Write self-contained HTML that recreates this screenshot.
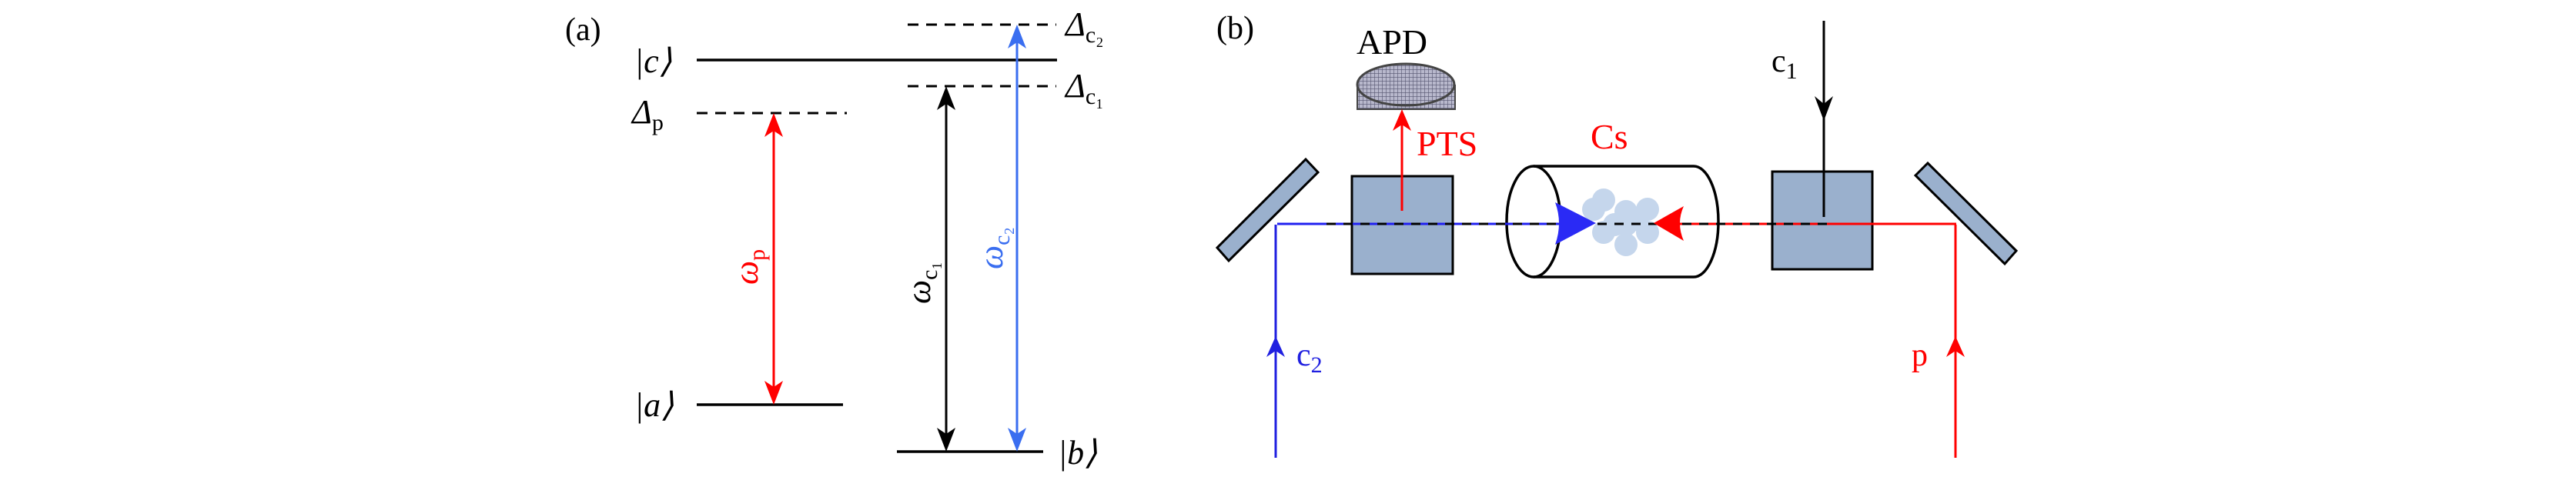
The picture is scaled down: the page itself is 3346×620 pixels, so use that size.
<!DOCTYPE html>
<html><head><meta charset="utf-8"><style>
html,body{margin:0;padding:0;background:#fff}
svg{display:block}
text{font-family:"Liberation Serif",serif}
</style></head><body>
<svg width="3346" height="620" viewBox="0 0 3346 620" xmlns="http://www.w3.org/2000/svg">
<defs>
<pattern id="grid" width="5" height="5" patternUnits="userSpaceOnUse">
<rect width="5" height="5" fill="#b8b8cc"/>
<path d="M0 0H5M0 0V5" stroke="#555570" stroke-width="1.2"/>
</pattern>
</defs>
<!-- Panel (a) -->
<text x="734" y="52" font-size="42">(a)</text>
<g stroke="#000" stroke-width="3.5">
<line x1="905" y1="78" x2="1373" y2="78"/>
<line x1="905" y1="526" x2="1095" y2="526"/>
<line x1="1165" y1="587" x2="1355" y2="587"/>
</g>
<g stroke="#000" stroke-width="3" stroke-dasharray="14,10">
<line x1="1179" y1="32" x2="1372" y2="32"/>
<line x1="1179" y1="112" x2="1372" y2="112"/>
<line x1="905" y1="147" x2="1100" y2="147"/>
</g>
<line x1="1005" y1="160" x2="1005" y2="512" stroke="#f00" stroke-width="3"/>
<path d="M1005 147 L993 178 L1005 170 L1017 178Z M1005 526 L993 495 L1005 503 L1017 495Z" fill="#f00"/>
<line x1="1229" y1="125" x2="1229" y2="573" stroke="#000" stroke-width="3"/>
<path d="M1229 112 L1217 143 L1229 135 L1241 143Z M1229 587 L1217 556 L1229 564 L1241 556Z" fill="#000"/>
<line x1="1321" y1="45" x2="1321" y2="573" stroke="#3a6ef0" stroke-width="3"/>
<path d="M1321 32 L1309 63 L1321 55 L1333 63Z M1321 587 L1309 556 L1321 564 L1333 556Z" fill="#3a6ef0"/>
<g font-size="44" font-style="italic">
<text x="824" y="94">|c⟩</text>
<text x="824" y="541">|a⟩</text>
<text x="1374" y="603">|b⟩</text>
<text x="821" y="160">Δ<tspan font-style="normal" font-size="30" dy="9">p</tspan></text>
<text x="1384" y="46">Δ<tspan font-style="normal" font-size="30" dy="9">c₂</tspan></text>
<text x="1384" y="126">Δ<tspan font-style="normal" font-size="30" dy="9">c₁</tspan></text>
<text transform="translate(984,370) rotate(-90)" fill="#f00">ω<tspan font-style="normal" font-size="30" dy="9">p</tspan></text>
<text transform="translate(1208,395) rotate(-90)">ω<tspan font-style="normal" font-size="30" dy="9">c₁</tspan></text>
<text transform="translate(1302,350) rotate(-90)" fill="#3a6ef0">ω<tspan font-style="normal" font-size="30" dy="9">c₂</tspan></text>
</g>
<!-- Panel (b) -->
<text x="1580" y="50" font-size="42">(b)</text>
<text x="1762" y="70" font-size="46">APD</text>
<rect x="1763" y="111" width="127" height="31" fill="url(#grid)" stroke="#444" stroke-width="2"/>
<ellipse cx="1826" cy="110" rx="63" ry="27" fill="url(#grid)" stroke="#444" stroke-width="3"/>
<polygon points="1581,322 1596,339 1712,224 1696,207" fill="#9ab0cd" stroke="#000" stroke-width="3"/>
<polygon points="2488,228 2504,212 2619,326 2604,343" fill="#9ab0cd" stroke="#000" stroke-width="3"/>
<rect x="1756" y="229" width="131" height="127" fill="#9ab0cd" stroke="#000" stroke-width="3"/>
<rect x="2302" y="223" width="130" height="127" fill="#9ab0cd" stroke="#000" stroke-width="3"/>
<path d="M1992 216 L2200 216 A32 72 0 0 1 2200 360 L1992 360" fill="#fff" stroke="#000" stroke-width="3.5"/>
<ellipse cx="1992" cy="288" rx="35" ry="72" fill="none" stroke="#000" stroke-width="3.5"/>
<g fill="#c5d6ec">
<circle cx="2083" cy="260" r="15"/><circle cx="2070" cy="272" r="15"/>
<circle cx="2112" cy="275" r="15"/><circle cx="2140" cy="272" r="15"/>
<circle cx="2097" cy="292" r="15"/><circle cx="2083" cy="302" r="15"/>
<circle cx="2140" cy="302" r="15"/><circle cx="2112" cy="318" r="15"/>
<circle cx="2112" cy="292" r="15"/><circle cx="2125" cy="285" r="15"/>
</g>
<line x1="1659" y1="291" x2="2031" y2="291" stroke="#2020f0" stroke-width="3"/>
<line x1="2150" y1="291" x2="2541" y2="291" stroke="#f00" stroke-width="3"/>
<line x1="1723" y1="291" x2="2377" y2="291" stroke="#000" stroke-width="3" stroke-dasharray="12,10"/>
<path d="M2073 290 L2020 263 Q2030 290 2020 318Z" fill="#2a2af5"/>
<path d="M2148 290 L2187 268 Q2177 290 2187 313Z" fill="#f00"/>
<line x1="1657" y1="292" x2="1657" y2="595" stroke="#2020e0" stroke-width="3"/>
<path d="M1657 437 L1645 464 L1657 456 L1669 464Z" fill="#2020e0"/>
<line x1="2540" y1="292" x2="2540" y2="595" stroke="#f00" stroke-width="3"/>
<path d="M2540 437 L2528 464 L2540 456 L2552 464Z" fill="#f00"/>
<line x1="1821" y1="274" x2="1821" y2="150" stroke="#f00" stroke-width="3"/>
<path d="M1821 142 L1809 170 L1821 162 L1833 170Z" fill="#f00"/>
<line x1="2369" y1="27" x2="2369" y2="282" stroke="#000" stroke-width="3"/>
<path d="M2369 157 L2357 125 L2369 135 L2381 125Z" fill="#000"/>
<text x="1840" y="202" font-size="46" fill="#f00">PTS</text>
<text x="2066" y="193" font-size="46" fill="#f00">Cs</text>
<text x="2301" y="93" font-size="42">c<tspan font-size="30" dy="9">1</tspan></text>
<text x="1684" y="475" font-size="42" fill="#2020e0">c<tspan font-size="30" dy="9">2</tspan></text>
<text x="2483" y="475" font-size="42" fill="#f00">p</text>
</svg>
</body></html>
